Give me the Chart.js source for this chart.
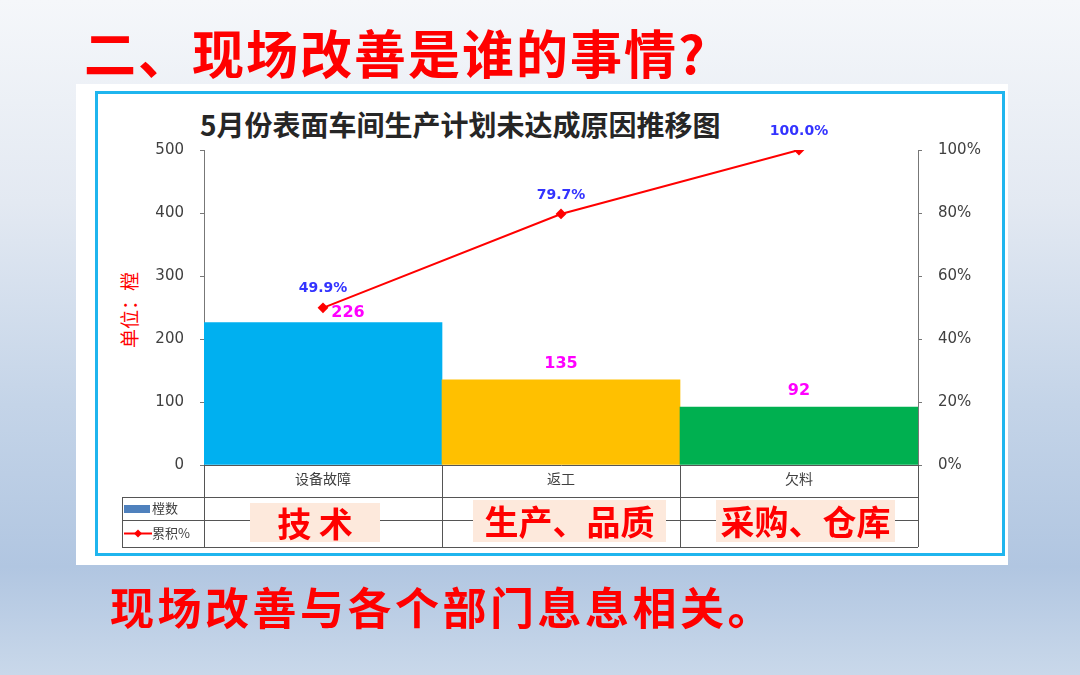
<!DOCTYPE html>
<html>
<head>
<meta charset="utf-8">
<script src="https://cdn.jsdelivr.net/npm/chart.js"></script>
<style>
  body { margin: 0; width: 1080px; height: 675px; overflow: hidden; position: relative;
         font-family: "Noto Sans CJK SC", "Noto Sans", sans-serif;
         background: linear-gradient(to bottom, #f5f7fa 0%, #e3e9f2 30%, #c4d4e8 60%, #b1c6e1 84%, #c9d8ea 100%); }
  .panel { position: absolute; left: 76px; top: 84px; width: 932px; height: 481px; background: #fff; }
  .frame { position: absolute; left: 95px; top: 91px; width: 910px; height: 465px; box-sizing: border-box;
           border: 3px solid #1fb5ee; }
  canvas { position: absolute; left: 0; top: 0; }
  .heading { position: absolute; left: 84px; top: 14px; font-size: 52px; font-weight: bold; color: #ff0000; letter-spacing: 2px; white-space: nowrap; }
  .footer { position: absolute; left: 110px; top: 574px; font-size: 44px; font-weight: bold; color: #ff0000; letter-spacing: 3.5px; white-space: nowrap; }
  .ctitle { position: absolute; left: 200px; top: 104px; font-size: 28px; font-weight: bold; color: #262626; white-space: nowrap; }
  .unit { position: absolute; left: 128px; top: 310px; transform: translate(-50%, -50%) rotate(-90deg);
          font-size: 19px; color: #ff0000; white-space: nowrap; }
  .tag { position: absolute; background: #fde9dc; color: #ff0000; font-weight: bold; text-align: center;
         white-space: nowrap; line-height: 42px; height: 42px; top: 500px; font-size: 34px; }
</style>
</head>
<body>
<div class="panel"></div>
<div class="frame"></div>
<div class="heading">二、现场改善是谁的事情?</div>
<div class="ctitle">5月份表面车间生产计划未达成原因推移图</div>
<div class="unit">单位：樘</div>
<canvas id="chart" width="1080" height="675"></canvas>
<div class="tag" style="left:250px; width:130px; top:503px; height:39px; line-height:39px;">技 术</div>
<div class="tag" style="left:473px; width:193px;">生产、品质</div>
<div class="tag" style="left:716px; width:179px;">采购、仓库</div>
<div class="footer">现场改善与各个部门息息相关。</div>
<script>
// categories and values
const categories = ['设备故障', '返工', '欠料'];
const counts = [226, 135, 92];
const cumulative = [49.9, 79.7, 100.0];
const countTicks = [0, 100, 200, 300, 400, 500];
const pctTicks = [0, 20, 40, 60, 80, 100];

const barColors = ['#00b0f0', '#ffc000', '#00b050'];
const countNudge = [[25, 6], [0, 0], [0, 0]]; // first label sits beside the point

const tablePlugin = {
    id: 'tablePlugin',
    afterDraw(chart) {
        const ctx = chart.ctx;
        const area = chart.chartArea;
        const catW = (area.right - area.left) / categories.length;

        // value labels on bars (dataset 1 is the bar set)
        const bars = chart.getDatasetMeta(1).data;
        ctx.save();
        ctx.font = 'bold 16px "DejaVu Sans", sans-serif';
        ctx.fillStyle = '#ff00ff';
        ctx.textAlign = 'center';
        ctx.textBaseline = 'middle';
        bars.forEach((b, i) => {
            ctx.fillText(String(counts[i]), b.x + countNudge[i][0], b.y - 16 + countNudge[i][1]);
        });

        // percent labels on points
        const pts = chart.getDatasetMeta(0).data;
        ctx.font = 'bold 14px "DejaVu Sans", sans-serif';
        ctx.fillStyle = '#3333ff';
        pts.forEach((p, i) => {
            ctx.fillText(cumulative[i].toFixed(1) + '%', p.x, p.y - 19);
        });

        // data table grid
        const top = area.bottom;
        const r1 = top + 32, r2 = top + 55, r3 = top + 82;
        const tl = 122;
        ctx.strokeStyle = '#555';
        ctx.lineWidth = 1;
        ctx.beginPath();
        [r1, r2, r3].forEach(y => { ctx.moveTo(tl, y + 0.5); ctx.lineTo(area.right, y + 0.5); });
        ctx.moveTo(tl + 0.5, r1); ctx.lineTo(tl + 0.5, r3);
        for (let i = 0; i <= categories.length; i++) {
            const x = Math.round(area.left + i * catW) + 0.5;
            ctx.moveTo(x, top); ctx.lineTo(x, r3);
        }
        ctx.stroke();

        // legend keys
        ctx.fillStyle = '#4f81bd';
        ctx.fillRect(124, r1 + 8, 26, 8);
        ctx.strokeStyle = '#ff0000';
        ctx.lineWidth = 2;
        ctx.beginPath();
        const ly = (r2 + r3) / 2;
        ctx.moveTo(124, ly); ctx.lineTo(152, ly);
        ctx.stroke();
        ctx.fillStyle = '#ff0000';
        ctx.beginPath();
        ctx.moveTo(138, ly - 4); ctx.lineTo(142, ly); ctx.lineTo(138, ly + 4); ctx.lineTo(134, ly);
        ctx.closePath();
        ctx.fill();
        ctx.fillStyle = '#404040';
        ctx.textAlign = 'left';
        ctx.font = '13px "Noto Sans CJK SC", sans-serif';
        ctx.fillText('樘数', 152, (r1 + r2) / 2);
        ctx.fillText('累积%', 152, ly);
        ctx.restore();
    }
};

new Chart(document.getElementById('chart'), {
    data: {
        labels: categories,
        datasets: [
            {
                type: 'line',
                label: '累积%',
                data: cumulative,
                yAxisID: 'y1',
                order: 1,
                borderColor: '#ff0000',
                borderWidth: 2,
                pointStyle: 'rectRot',
                pointRadius: 4,
                pointBackgroundColor: '#ff0000',
                pointBorderColor: '#ff0000'
            },
            {
                type: 'bar',
                label: '樘数',
                data: counts,
                yAxisID: 'y',
                order: 2,
                backgroundColor: barColors,
                borderWidth: 0,
                barPercentage: 1,
                categoryPercentage: 1
            }
        ]
    },
    options: {
        responsive: false,
        animation: false,
        layout: { padding: { top: 150, bottom: 178, left: 0, right: 0 } },
        plugins: { legend: { display: false }, tooltip: { enabled: false } },
        scales: {
            x: {
                grid: { display: false, drawTicks: false },
                border: { display: true, color: '#555' },
                ticks: { color: '#404040', font: { size: 14, family: '"Noto Sans CJK SC"' }, padding: 5, maxRotation: 0 },
                afterFit: s => { s.height = 32; }
            },
            y: {
                position: 'left',
                min: 0, max: 500,
                afterBuildTicks: s => { s.ticks = countTicks.map(v => ({ value: v })); },
                grid: { drawOnChartArea: false, tickLength: 4, color: '#777' },
                border: { color: '#777' },
                ticks: { color: '#404040', font: { size: 15, family: '"DejaVu Sans"' }, padding: 16 },
                afterFit: s => { s.width = 204; }
            },
            y1: {
                position: 'right',
                min: 0, max: 100,
                afterBuildTicks: s => { s.ticks = pctTicks.map(v => ({ value: v })); },
                grid: { drawOnChartArea: false, tickLength: 4, color: '#777' },
                border: { color: '#777' },
                ticks: { color: '#404040', font: { size: 15, family: '"DejaVu Sans"' }, padding: 16, callback: v => v + '%' },
                afterFit: s => { s.width = 162; }
            }
        }
    },
    plugins: [tablePlugin]
});
</script>
</body>
</html>
